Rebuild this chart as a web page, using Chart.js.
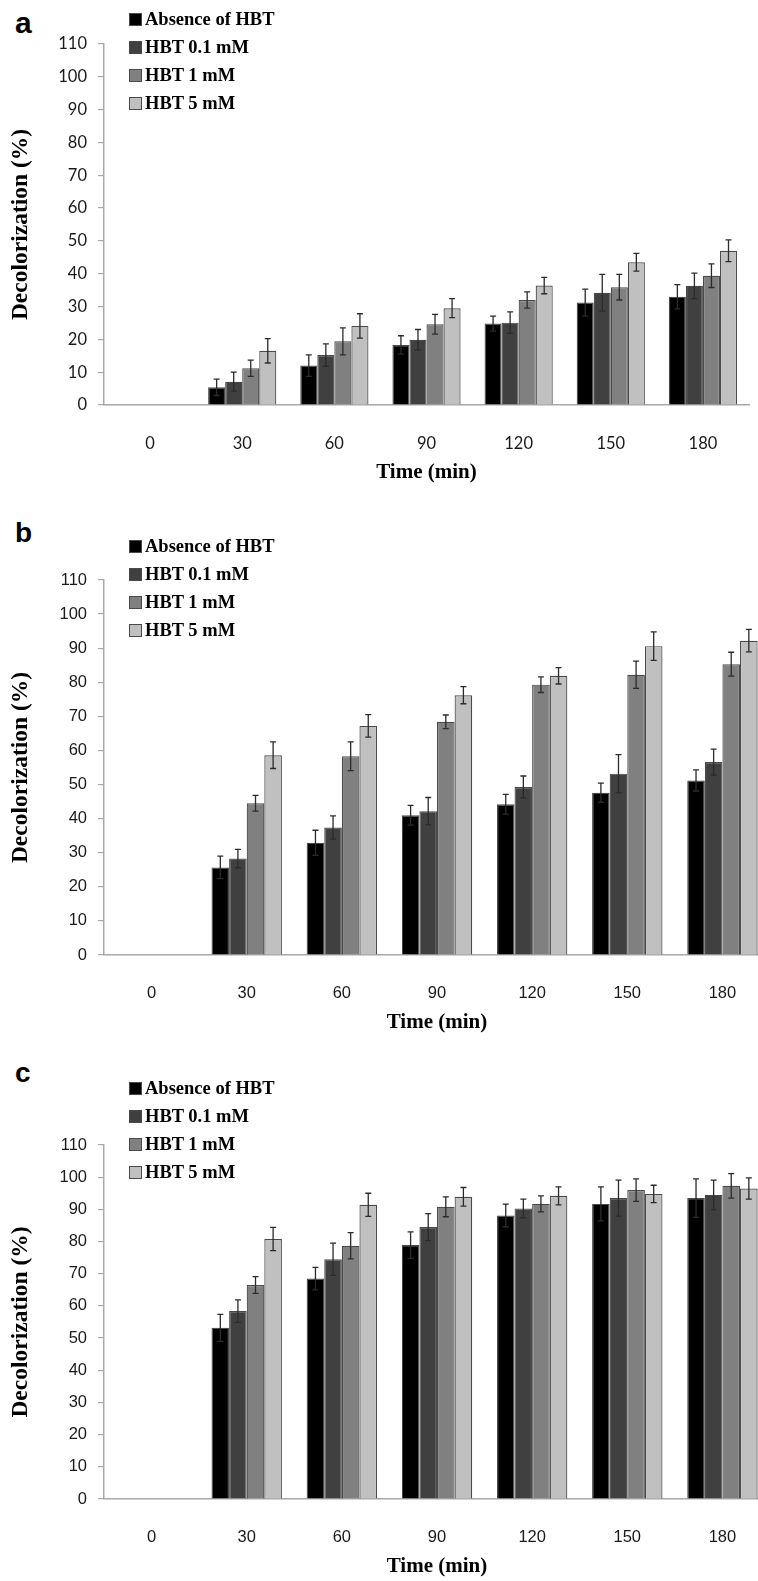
<!DOCTYPE html>
<html>
<head>
<meta charset="utf-8">
<script src="https://cdn.jsdelivr.net/npm/chart.js@4.4.1/dist/chart.umd.min.js"></script>
<style>
  html, body { margin: 0; padding: 0; background: #fff; }
  body { width: 758px; height: 1581px; position: relative; overflow: hidden; }
  .panel { position: absolute; left: 0; }
  .letter { position: absolute; font-family: "Liberation Sans", Arial, sans-serif; font-weight: bold; line-height: 1; color: #000; }
  .legend { position: absolute; left: 129px; font-family: "Liberation Serif", "Times New Roman", serif; font-weight: bold; font-size: 18.5px; color: #000; }
  .legend .row { height: 28px; display: flex; align-items: center; }
  .legend .box { width: 11px; height: 11px; border: 1px solid #4a4a4a; margin-right: 3px; }
</style>
</head>
<body>
<div class="letter" style="left:15px; top:8px; font-size:30px;">a</div>
<div class="letter" style="left:15px; top:519px; font-size:28px;">b</div>
<div class="letter" style="left:15px; top:1059px; font-size:28px;">c</div>

<div class="panel" style="top:0; width:758px; height:490px;"><canvas id="chartA"></canvas></div>
<div class="panel" style="top:500px; width:770px; height:540px;"><canvas id="chartB"></canvas></div>
<div class="panel" style="top:1040px; width:770px; height:544px;"><canvas id="chartC"></canvas></div>

<div class="legend" id="legendA" style="top:5px;"></div>
<div class="legend" id="legendB" style="top:532px;"></div>
<div class="legend" id="legendC" style="top:1074px;"></div>

<script>
const times = ['0', '30', '60', '90', '120', '150', '180']
const seriesNames = ['Absence of HBT', 'HBT 0.1 mM', 'HBT 1 mM', 'HBT 5 mM']
const yTicks = [0, 10, 20, 30, 40, 50, 60, 70, 80, 90, 100, 110]

// panel a
const aAbsence = [0, 5.4, 12.0, 18.3, 24.8, 31.2, 33.0]
const aHbt01 = [0, 7.1, 15.2, 19.9, 25.1, 34.2, 36.3]
const aHbt1 = [0, 11.2, 19.4, 24.6, 32.0, 35.9, 39.4]
const aHbt5 = [0, 16.5, 24.1, 29.5, 36.4, 43.5, 47.0]
const aAbsenceErr = [0, 2.5, 3.3, 2.8, 2.3, 4.1, 3.7]
const aHbt01Err = [0, 2.9, 3.4, 3.1, 3.3, 5.6, 3.9]
const aHbt1Err = [0, 2.5, 4.1, 3.0, 2.5, 3.9, 3.6]
const aHbt5Err = [0, 3.7, 3.7, 2.9, 2.5, 2.7, 3.3]

// panel b
const bAbsence = [0, 25.7, 32.9, 41.0, 44.2, 47.6, 51.2]
const bHbt01 = [0, 28.3, 37.4, 42.2, 49.3, 53.2, 56.6]
const bHbt1 = [0, 44.5, 58.3, 68.4, 79.3, 82.2, 85.3]
const bHbt5 = [0, 58.6, 67.2, 76.2, 81.9, 90.6, 92.2]
const bAbsenceErr = [0, 3.3, 3.7, 2.9, 2.9, 2.8, 3.1]
const bHbt01Err = [0, 2.7, 3.4, 4.0, 3.2, 5.6, 3.8]
const bHbt1Err = [0, 2.3, 4.2, 2.0, 2.3, 4.0, 3.5]
const bHbt5Err = [0, 3.9, 3.3, 2.5, 2.4, 4.2, 3.3]

// panel c
const cAbsence = [0, 53.2, 68.5, 78.9, 88.1, 91.7, 93.5]
const cHbt01 = [0, 58.4, 74.5, 84.5, 90.3, 93.5, 94.5]
const cHbt1 = [0, 66.5, 78.7, 90.8, 91.7, 96.0, 97.3]
const cHbt5 = [0, 80.8, 91.4, 93.9, 94.2, 94.8, 96.5]
const cAbsenceErr = [0, 4.2, 3.5, 4.1, 3.5, 5.3, 6.0]
const cHbt01Err = [0, 3.5, 5.0, 4.2, 2.9, 5.6, 4.6]
const cHbt1Err = [0, 2.6, 4.1, 3.1, 2.5, 3.5, 3.8]
const cHbt5Err = [0, 3.6, 3.6, 2.9, 2.8, 2.7, 3.3]

const barColors = ['#000000', '#404040', '#808080', '#c0c0c0']
const axisColor = '#a8a8a8'

// draws the +/- whiskers on top of every bar
const errorBars = {
  id: 'errorBars',
  afterDatasetsDraw(chart) {
    const ctx = chart.ctx
    const y = chart.scales.y
    ctx.save()
    ctx.strokeStyle = '#2b2b2b'
    ctx.lineWidth = 1.3
    chart.data.datasets.forEach((ds, i) => {
      const meta = chart.getDatasetMeta(i)
      meta.data.forEach((bar, j) => {
        const err = ds.errors[j]
        if (!err) return
        const v = ds.data[j]
        const top = y.getPixelForValue(v + err)
        const bot = y.getPixelForValue(v - err)
        ctx.beginPath()
        ctx.moveTo(bar.x, top)
        ctx.lineTo(bar.x, bot)
        ctx.moveTo(bar.x - 3, top)
        ctx.lineTo(bar.x + 3, top)
        ctx.moveTo(bar.x - 3, bot)
        ctx.lineTo(bar.x + 3, bot)
        ctx.stroke()
      })
    })
    ctx.restore()
  }
}

function makeLegend(id) {
  const el = document.getElementById(id)
  for (let i = 0; i < seriesNames.length; i++) {
    const row = document.createElement('div')
    row.className = 'row'
    const box = document.createElement('span')
    box.className = 'box'
    box.style.background = barColors[i]
    const txt = document.createElement('span')
    txt.textContent = seriesNames[i]
    row.appendChild(box)
    row.appendChild(txt)
    el.appendChild(row)
  }
}

function makePanel(canvasId, values, errors, padTop, padRight, tickFont) {
  new Chart(document.getElementById(canvasId), {
    type: 'bar',
    data: {
      labels: times,
      datasets: values.map((vals, i) => ({
        label: seriesNames[i],
        data: vals,
        errors: errors[i],
        backgroundColor: barColors[i],
        borderColor: '#4a4a4a',
        borderWidth: 1.2,
        categoryPercentage: 0.74,
        barPercentage: 1.0
      }))
    },
    options: {
      responsive: true,
      maintainAspectRatio: false,
      animation: false,
      layout: { padding: { top: padTop, right: padRight, left: 0, bottom: 0 } },
      plugins: { legend: { display: false }, tooltip: { enabled: false } },
      scales: {
        x: {
          grid: { display: false },
          border: { display: true, color: axisColor, width: 1.5 },
          ticks: { color: '#1a1a1a', padding: 21, font: { family: tickFont, size: 16.5 } },
          title: {
            display: true,
            text: 'Time (min)',
            color: '#000',
            font: { family: 'Liberation Serif', weight: 'bold', size: 21 },
            padding: { top: 0, bottom: 5 }
          },
          afterFit: scale => { scale.height = 85 }
        },
        y: {
          min: 0,
          max: 110,
          afterBuildTicks: scale => { scale.ticks = yTicks.map(v => ({ value: v })) },
          grid: { drawOnChartArea: false, drawTicks: true, tickLength: 6, color: axisColor, lineWidth: 1.2 },
          border: { display: true, color: axisColor, width: 1.5 },
          ticks: { color: '#1a1a1a', padding: 11, font: { family: tickFont, size: 16.5 } },
          title: {
            display: true,
            text: 'Decolorization (%)',
            color: '#000',
            font: { family: 'Liberation Serif', weight: 'bold', size: 23.5 },
            padding: { top: 7, bottom: 0 }
          },
          afterFit: scale => { scale.width = 104 }
        }
      }
    },
    plugins: [errorBars]
  })
}

makeLegend('legendA')
makeLegend('legendB')
makeLegend('legendC')

makePanel('chartA', [aAbsence, aHbt01, aHbt1, aHbt5], [aAbsenceErr, aHbt01Err, aHbt1Err, aHbt5Err], 44, 9, 'Lato')
makePanel('chartB', [bAbsence, bHbt01, bHbt1, bHbt5], [bAbsenceErr, bHbt01Err, bHbt1Err, bHbt5Err], 80, 0, 'Liberation Sans')
makePanel('chartC', [cAbsence, cHbt01, cHbt1, cHbt5], [cAbsenceErr, cHbt01Err, cHbt1Err, cHbt5Err], 105, 0, 'Liberation Sans')
</script>
</body>
</html>
